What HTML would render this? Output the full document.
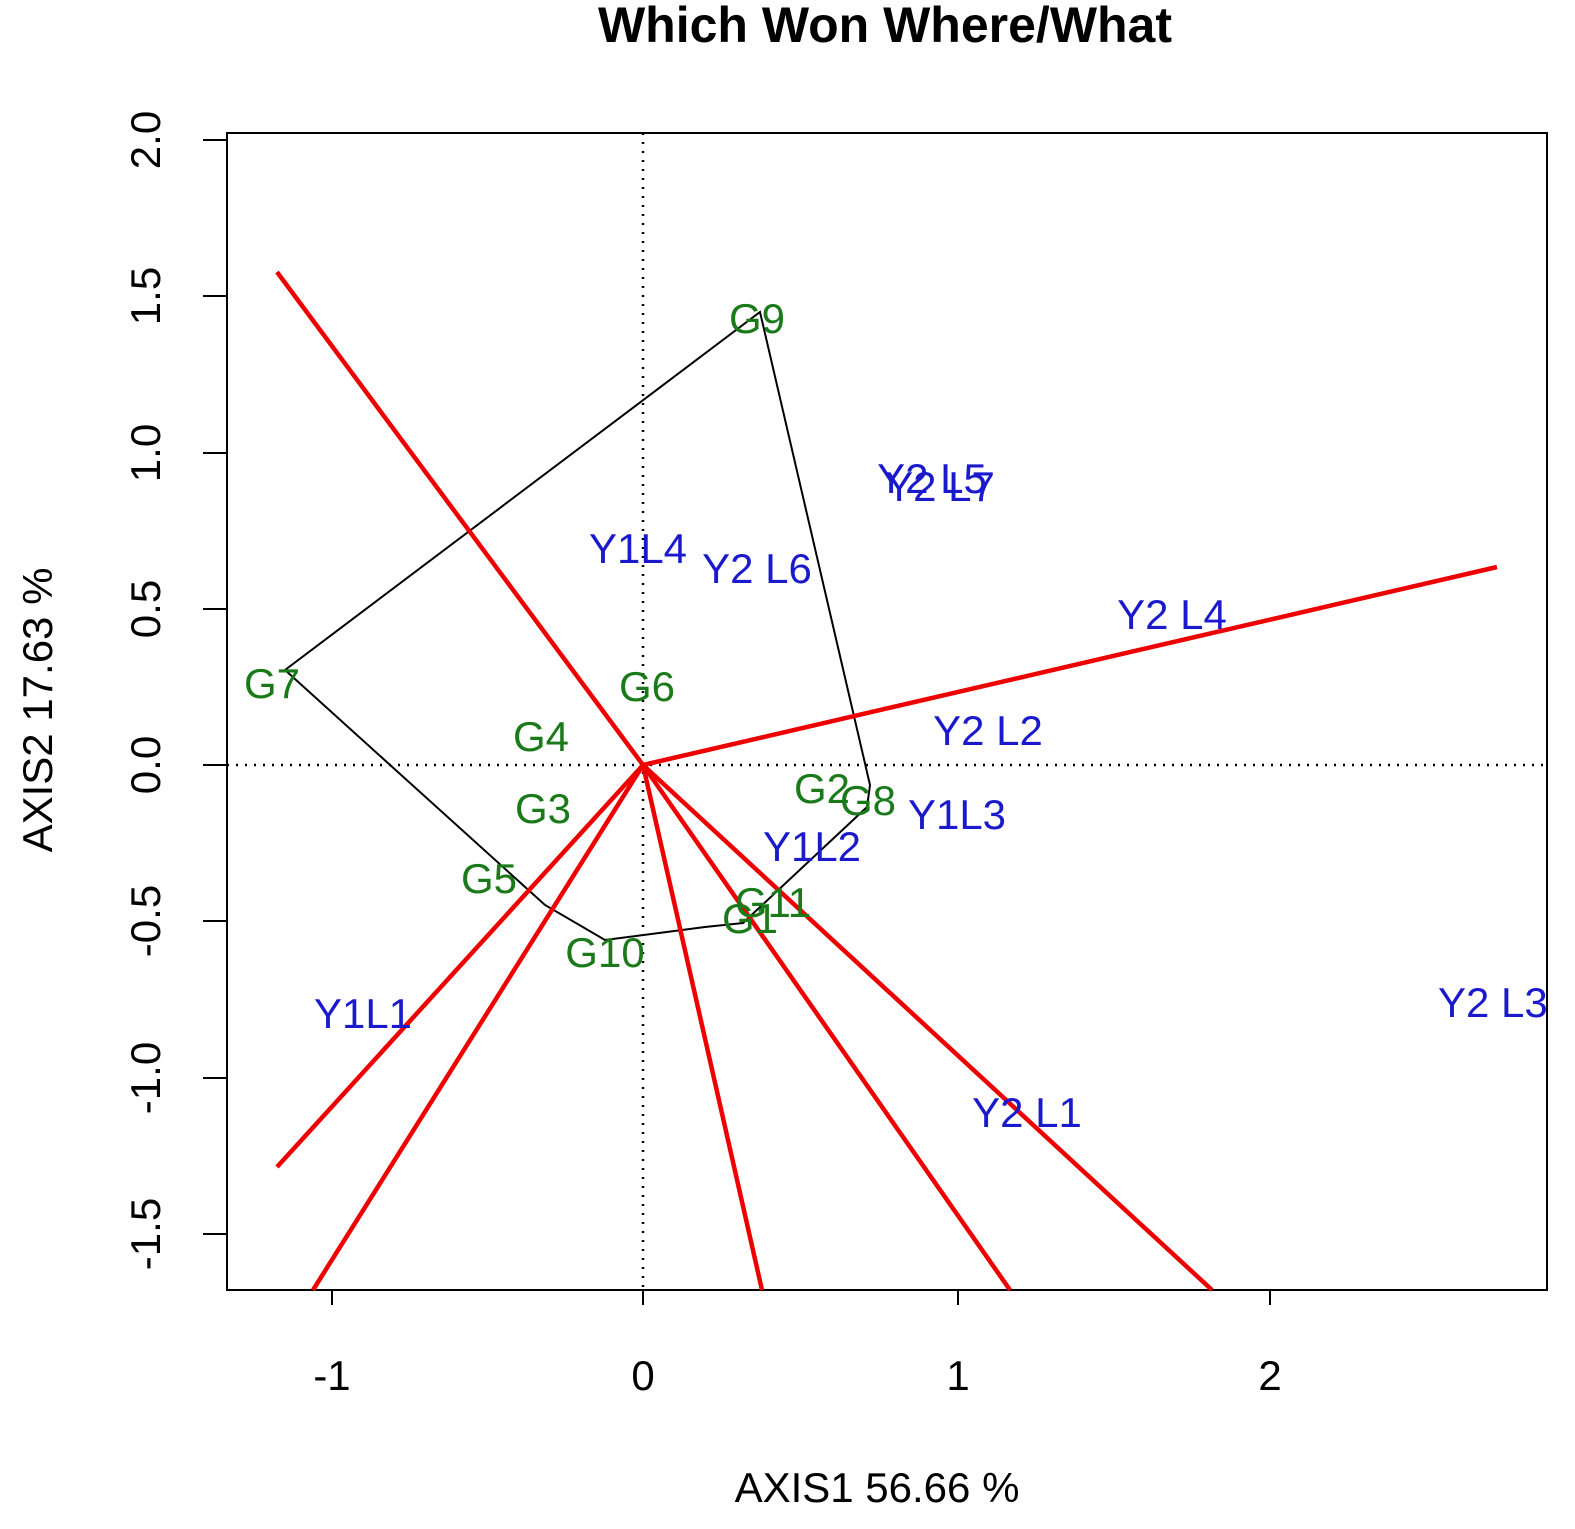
<!DOCTYPE html>
<html><head><meta charset="utf-8"><style>
html,body{margin:0;padding:0;background:#fff;}
svg{display:block;font-family:"Liberation Sans",sans-serif;}
</style></head><body>
<svg width="1575" height="1529" viewBox="0 0 1575 1529">
<rect width="1575" height="1529" fill="#fff"/>
<text x="885" y="42" font-size="50" font-weight="bold" text-anchor="middle">Which Won Where/What</text>
<g stroke="#000" stroke-width="2" fill="none">
<rect x="227" y="133" width="1320" height="1157"/>
<line x1="332" y1="1290" x2="1270" y2="1290"/>
<line x1="332" y1="1290" x2="332" y2="1305"/><line x1="643" y1="1290" x2="643" y2="1305"/>
<line x1="958" y1="1290" x2="958" y2="1305"/><line x1="1270" y1="1290" x2="1270" y2="1305"/>
<line x1="203" y1="140" x2="227" y2="140"/><line x1="203" y1="296" x2="227" y2="296"/>
<line x1="203" y1="453" x2="227" y2="453"/><line x1="203" y1="609" x2="227" y2="609"/>
<line x1="203" y1="765" x2="227" y2="765"/><line x1="203" y1="921" x2="227" y2="921"/>
<line x1="203" y1="1078" x2="227" y2="1078"/><line x1="203" y1="1234" x2="227" y2="1234"/>
</g>
<g stroke="#000" stroke-width="2.5" stroke-dasharray="2,7">
<line x1="643" y1="133" x2="643" y2="1290"/><line x1="227" y1="765" x2="1547" y2="765"/>
</g>
<g font-size="42" text-anchor="middle">
<text x="332" y="1390">-1</text><text x="643" y="1390">0</text><text x="958" y="1390">1</text><text x="1270" y="1390">2</text>
<text x="877" y="1502">AXIS1 56.66 %</text>
</g>
<g font-size="42" text-anchor="middle">
<text transform="translate(160,140) rotate(-90)">2.0</text>
<text transform="translate(160,296) rotate(-90)">1.5</text>
<text transform="translate(160,453) rotate(-90)">1.0</text>
<text transform="translate(160,609) rotate(-90)">0.5</text>
<text transform="translate(160,765) rotate(-90)">0.0</text>
<text transform="translate(160,921) rotate(-90)">-0.5</text>
<text transform="translate(160,1078) rotate(-90)">-1.0</text>
<text transform="translate(160,1234) rotate(-90)">-1.5</text>
<text transform="translate(52,710) rotate(-90)">AXIS2 17.63 %</text>
</g>
<polyline fill="none" stroke="#000" stroke-width="2" points="285,670 760,312 870,785 867,807 743,923 705,927 605,940 545,905 285,670"/>
<g stroke="#e00" stroke-width="4.5">
<line x1="643" y1="765" x2="277" y2="272"/><line x1="643" y1="765" x2="1497" y2="567"/>
<line x1="643" y1="765" x2="277" y2="1167"/><line x1="643" y1="765" x2="313" y2="1290"/>
<line x1="643" y1="765" x2="762" y2="1290"/><line x1="643" y1="765" x2="1010" y2="1290"/>
<line x1="643" y1="765" x2="1212" y2="1290"/>
</g>
<g font-size="42" fill="#1a7a1a" text-anchor="middle">
<text x="757" y="333">G9</text><text x="272" y="698">G7</text><text x="647" y="701">G6</text>
<text x="541" y="751">G4</text><text x="543" y="823">G3</text><text x="489" y="893">G5</text>
<text x="605" y="967">G10</text><text x="750" y="933">G1</text><text x="773" y="917">G11</text>
<text x="822" y="803">G2</text><text x="868" y="815">G8</text>
</g>
<g font-size="42" fill="#1a1acc" text-anchor="middle">
<text x="932" y="493">Y2 L5</text><text x="940" y="501">Y2 L7</text>
<text x="638" y="563">Y1L4</text><text x="757" y="583">Y2 L6</text>
<text x="1172" y="629">Y2 L4</text><text x="988" y="745">Y2 L2</text>
<text x="957" y="829">Y1L3</text><text x="812" y="861">Y1L2</text>
<text x="363" y="1028">Y1L1</text><text x="1027" y="1127">Y2 L1</text>
<text x="1438" y="1017" text-anchor="start">Y2 L3</text>
</g>
<rect x="1549" y="980" width="26" height="60" fill="#fff"/>
</svg>
</body></html>
